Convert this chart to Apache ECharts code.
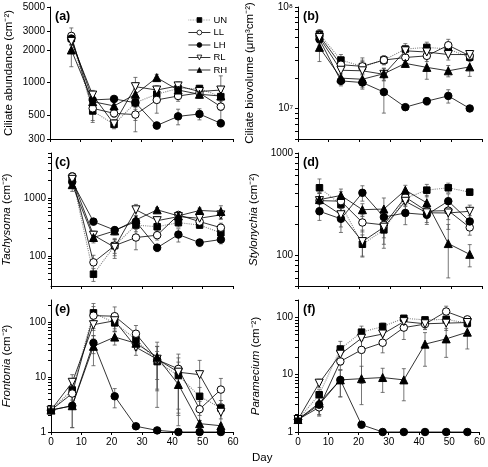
<!DOCTYPE html>
<html><head><meta charset="utf-8">
<script src="https://cdn.jsdelivr.net/npm/echarts@6/dist/echarts.min.js"></script>
<style>html,body{margin:0;padding:0;background:#fff}#c{width:488px;height:467px}</style>
</head><body><div id="c"></div>
<script>
// ---------- data ----------
const days0 = [0, 7, 14, 21, 28, 35, 42, 49, 56];
const days7 = [7, 14, 21, 28, 35, 42, 49, 56];
const xTicks = [0, 10, 20, 30, 40, 50, 60];
const seriesNames = ['UN', 'LL', 'LH', 'RL', 'RH'];

// (a) Ciliate abundance (cm^-2)
const a_UN = [2550, 545, 410, 650, 780, 880, 880, 740];
const a_LL = [2700, 577, 518, 505, 690, 750, 800, 598];
const a_LH = [2550, 690, 705, 650, 400, 486, 511, 419];
const a_RL = [2400, 765, 413, 915, 852, 930, 825, 852];
const a_RH = [2000, 665, 607, 778, 1110, 852, 778, 750];
const a_UN_se = [300, 100, 30, 300, 100, 100, 60, 100];
const a_LL_se = [500, 150, 40, 60, 170, 80, 60, 150];
const a_LH_se = [300, 60, 40, 60, 30, 80, 60, 30];
const a_RL_se = [400, 80, 40, 200, 80, 80, 60, 300];
const a_RH_se = [600, 80, 50, 100, 80, 80, 60, 80];
const a_ticks = [300, 500, 1000, 2000, 3000, 5000];

// (b) Ciliate biovolume (um^3 cm^-2)
const b_UN = [5.4e7, 3.0e7, 2.59e7, 3.0e7, 3.85e7, 4.0e7, 3.85e7, 3.2e7];
const b_LL = [5.2e7, 2.7e7, 2.6e7, 3.0e7, 3.18e7, 3.3e7, 4.2e7, 3.3e7];
const b_LH = [4.8e7, 1.87e7, 1.8e7, 1.45e7, 1.03e7, 1.18e7, 1.33e7, 1.0e7];
const b_RL = [5.0e7, 2.38e7, 2.35e7, 2.17e7, 3.7e7, 3.6e7, 3.4e7, 3.4e7];
const b_RH = [4.0e7, 1.99e7, 1.94e7, 2.2e7, 2.78e7, 2.54e7, 2.35e7, 2.57e7];
const b_UN_se = [0.6e7, 0.4e7, 0.4e7, 0.3e7, 0.5e7, 0.5e7, 0.4e7, 0.3e7];
const b_LL_se = [0.6e7, 0.3e7, 0.3e7, 0.3e7, 0.5e7, 0.4e7, 0.6e7, 0.3e7];
const b_LH_se = [0.6e7, 0.2e7, 0.2e7, 0.55e7, 0.05e7, 0.1e7, 0.2e7, 0.05e7];
const b_RL_se = [0.6e7, 0.3e7, 0.8e7, 0.3e7, 0.4e7, 0.4e7, 0.4e7, 0.3e7];
const b_RH_se = [1.1e7, 0.2e7, 0.2e7, 0.3e7, 0.2e7, 0.6e7, 0.3e7, 0.5e7];
const b_labels = [1e7, 1e8];
const b_ticks = [5e6, 6e6, 7e6, 8e6, 9e6, 1e7, 2e7, 3e7, 4e7, 5e7, 6e7, 7e7, 8e7, 9e7, 1e8];

// (c) Tachysoma (cm^-2)
const c_UN = [2300, 48, 150, 340, 318, 374, 340, 250];
const c_LL = [2350, 77, 150, 207, 227, 510, 390, 306];
const c_LH = [1900, 390, 278, 390, 138, 233, 169, 191];
const c_RL = [2100, 227, 140, 624, 405, 476, 446, 510];
const c_RH = [1700, 207, 270, 417, 624, 490, 608, 584];
const c_UN_se = [400, 12, 40, 80, 60, 60, 40, 60];
const c_LL_se = [400, 25, 50, 80, 40, 50, 60, 60];
const c_LH_se = [300, 50, 40, 60, 20, 60, 25, 30];
const c_RL_se = [400, 40, 50, 150, 60, 60, 60, 80];
const c_RH_se = [400, 40, 40, 80, 60, 60, 60, 150];
const c_labels = [100, 1000];
const c_ticks = [40, 50, 60, 70, 80, 90, 100, 200, 300, 400, 500, 600, 700, 800, 900, 1000, 2000, 3000, 4000, 5000, 6000];

// (d) Stylonychia (cm^-2)
const d_UN = [457, 313, 128, 177, 360, 433, 457, 414];
const d_LL = [342, 338, 209, 198, 370, 270, 273, 187];
const d_LH = [269, 227, 408, 236, 259, 249, 338, 214];
const d_RL = [342, 249, 136, 188, 337, 260, 259, 269];
const d_RH = [350, 384, 279, 283, 433, 325, 130, 102];
const d_UN_se = [100, 60, 30, 60, 60, 60, 50, 30];
const d_LL_se = [60, 80, 40, 50, 60, 40, 50, 30];
const d_LH_se = [50, 60, 70, 40, 60, 40, 60, 30];
const d_RL_se = [60, 60, 40, 60, 60, 60, 80, 40];
const d_RH_se = [60, 60, 40, 80, 50, 60, 70, 25];
const d_labels = [100, 1000];
const d_ticks = [50, 60, 70, 80, 90, 100, 200, 300, 400, 500, 600, 700, 800, 900, 1000];

// (e) Frontonia (cm^-2)
const e_UN = [2.5, 5.8, 146, 96, 48, 19, 10.6, 4.45, 2.73];
const e_LL = [2.5, 5.0, 130, 127, 61, 20.6, 14, 2.6, 5.9];
const e_LH = [2.5, 3.0, 41.5, 4.45, 1.27, 1.07, 1, 1, 1];
const e_RL = [2.5, 8.0, 89, 105, 34.7, 21, 12.2, 11, 2.28];
const e_RH = [2.5, 3.0, 36, 53, 41, 22.8, 7.3, 1.42, 1.3];
const e_UN_se = [0, 2, 70, 30, 15, 10, 8, 2, 1];
const e_LL_se = [0, 2, 60, 60, 25, 15, 12, 1, 3.5];
const e_LH_se = [0, 1.8, 15, 1.7, 0.15, 0.05, 0, 0, 0];
const e_RL_se = [0, 3, 40, 30, 10, 15, 10, 9, 1];
const e_RH_se = [0, 1.8, 20, 15, 10, 20, 6, 0.2, 0.1];
const e_labels = [1, 10, 100];
const e_ticks = [1, 2, 3, 4, 5, 6, 7, 8, 9, 10, 20, 30, 40, 50, 60, 70, 80, 90, 100, 200];

// (f) Paramecium (cm^-2)
const f_UN = [1.65, 4.46, 28, 55, 69, 96, 90, 92, 79];
const f_LL = [1.65, 2.69, 17, 27, 36, 66, 76, 126, 92];
const f_LH = [1.65, 2.99, 8.1, 1.34, 1, 1, 1, 1, 1];
const f_RL = [1.65, 7.1, 22.7, 43, 51, 84, 77, 79, 81];
const f_RH = [1.65, 3.2, 8.1, 8.5, 8.9, 8.1, 34, 42, 55];
const f_UN_se = [0, 1, 10, 15, 10, 10, 10, 10, 10];
const f_LL_se = [0, 0.8, 5, 20, 12, 25, 15, 30, 10];
const f_LH_se = [0, 1, 4, 0.15, 0, 0, 0, 0, 0];
const f_RL_se = [0, 1.2, 8, 15, 10, 15, 15, 20, 15];
const f_RH_se = [0, 1.2, 4, 5.5, 4, 4.6, 20, 22, 27];
const f_labels = [1, 10, 100];
const f_ticks = [1, 2, 3, 4, 5, 6, 7, 8, 9, 10, 20, 30, 40, 50, 60, 70, 80, 90, 100, 200];

// ---------- layout / styles ----------
const FONT = '"Liberation Sans", Arial, sans-serif';
const panels = [
  { tag: '(a)', days: days7, vals: [a_UN, a_LL, a_LH, a_RL, a_RH], se: [a_UN_se, a_LL_se, a_LH_se, a_RL_se, a_RH_se],
    min: 300, max: 5000, labels: a_ticks, ticks: a_ticks, name: 'Ciliate abundance (cm⁻²)', gap: 35,
    grid: { left: 50, top: 7, width: 183, height: 132 }, xl: false },
  { tag: '(b)', days: days7, vals: [b_UN, b_LL, b_LH, b_RL, b_RH], se: [b_UN_se, b_LL_se, b_LH_se, b_RL_se, b_RH_se],
    min: 5e6, max: 1e8, labels: b_labels, ticks: b_ticks, name: 'Ciliate biovolume (μm³cm⁻²)', gap: 42, sup: true,
    grid: { left: 298, top: 7, width: 184, height: 132 }, xl: false },
  { tag: '(c)', days: days7, vals: [c_UN, c_LL, c_LH, c_RL, c_RH], se: [c_UN_se, c_LL_se, c_LH_se, c_RL_se, c_RH_se],
    min: 30, max: 6000, labels: c_labels, ticks: c_ticks, name: '{i|Tachysoma} (cm⁻²)', gap: 38,
    grid: { left: 50, top: 153, width: 183, height: 133 }, xl: false },
  { tag: '(d)', days: days7, vals: [d_UN, d_LL, d_LH, d_RL, d_RH], se: [d_UN_se, d_LL_se, d_LH_se, d_RL_se, d_RH_se],
    min: 50, max: 1000, labels: d_labels, ticks: d_ticks, name: '{i|Stylonychia} (cm⁻²)', gap: 38,
    grid: { left: 298, top: 153, width: 184, height: 133 }, xl: false },
  { tag: '(e)', days: days0, vals: [e_UN, e_LL, e_LH, e_RL, e_RH], se: [e_UN_se, e_LL_se, e_LH_se, e_RL_se, e_RH_se],
    min: 1, max: 250, labels: e_labels, ticks: e_ticks, name: '{i|Frontonia} (cm⁻²)', gap: 38,
    grid: { left: 50, top: 300, width: 183, height: 132 }, xl: true },
  { tag: '(f)', days: days0, vals: [f_UN, f_LL, f_LH, f_RL, f_RH], se: [f_UN_se, f_LL_se, f_LH_se, f_RL_se, f_RH_se],
    min: 1, max: 200, labels: f_labels, ticks: f_ticks, name: '{i|Paramecium} (cm⁻²)', gap: 36,
    grid: { left: 298, top: 300, width: 184, height: 132 }, xl: true }
];

const sty = {
  UN: { symbol: 'rect', size: 6.5, fill: '#000', rot: 0, line: { color: '#888', type: 'dotted', width: 1.1 } },
  LL: { symbol: 'circle', size: 7.5, fill: '#fff', rot: 0, line: { color: '#000', type: 'solid', width: 0.8 } },
  LH: { symbol: 'circle', size: 7.5, fill: '#000', rot: 0, line: { color: '#000', type: 'solid', width: 0.8 } },
  RL: { symbol: 'triangle', size: 8, fill: '#fff', rot: 180, line: { color: '#000', type: 'solid', width: 0.8 } },
  RH: { symbol: 'triangle', size: 8, fill: '#000', rot: 0, line: { color: '#000', type: 'solid', width: 0.8 } }
};

function renderErr(params, api) {
  const x = api.value(0), lo = api.value(1), hi = api.value(2);
  const p1 = api.coord([x, lo]), p2 = api.coord([x, hi]);
  const w = 2;
  const st = { stroke: '#555', lineWidth: 0.8 };
  return { type: 'group', children: [
    { type: 'line', shape: { x1: p1[0], y1: p1[1], x2: p2[0], y2: p2[1] }, style: st },
    { type: 'line', shape: { x1: p1[0] - w, y1: p1[1], x2: p1[0] + w, y2: p1[1] }, style: st },
    { type: 'line', shape: { x1: p2[0] - w, y1: p2[1], x2: p2[0] + w, y2: p2[1] }, style: st }
  ] };
}

const sup = { '7': '⁷', '8': '⁸' };
const grids = [], xAxes = [], yAxes = [], series = [], graphics = [];
panels.forEach((p, i) => {
  grids.push(p.grid);
  xAxes.push({
    type: 'value', gridIndex: i, min: 0, max: 60, interval: 10,
    axisLine: { show: true, lineStyle: { color: '#000', width: 1 } },
    axisTick: { show: true, length: 3, inside: false, lineStyle: { color: '#000' } },
    axisLabel: { show: p.xl, fontSize: 10, color: '#000', margin: 5, fontFamily: FONT },
    splitLine: { show: false }
  });
  yAxes.push({
    type: 'log', logBase: 10, gridIndex: i, min: p.min, max: p.max,
    name: p.name, nameLocation: 'middle', nameGap: p.gap, nameRotate: 90,
    nameTextStyle: { fontSize: 11.5, color: '#000', fontFamily: FONT, rich: { i: { fontStyle: 'italic', fontSize: 11.5, fontFamily: FONT, color: '#000' } } },
    axisLine: { show: true, onZero: false, lineStyle: { color: '#000', width: 1 } },
    axisTick: { show: true, length: 3, customValues: p.ticks, lineStyle: { color: '#000' } },
    axisLabel: { show: true, fontSize: 10, color: '#000', margin: 5, fontFamily: FONT, customValues: p.labels,
      formatter: p.sup ? (v => '10' + sup[String(Math.round(Math.log10(v)))]) : (v => String(v)) },
    splitLine: { show: false }, minorTick: { show: false }
  });
  const errData = [];
  seriesNames.forEach((nm, k) => {
    const s = sty[nm];
    series.push({
      name: nm, type: 'line', xAxisIndex: i, yAxisIndex: i,
      data: p.days.map((d, j) => [d, p.vals[k][j]]),
      symbol: s.symbol, symbolSize: s.size, symbolRotate: s.rot, showSymbol: true,
      itemStyle: { color: s.fill, borderColor: '#000', borderWidth: 1 },
      lineStyle: s.line, z: 3, animation: false, silent: true
    });
    p.days.forEach((d, j) => {
      const v = p.vals[k][j], e = p.se[k][j];
      if (e > 0) errData.push([d, Math.max(v - e, p.min * 1.001), Math.min(v + e, p.max)]);
    });
  });
  series.push({
    type: 'custom', xAxisIndex: i, yAxisIndex: i, renderItem: renderErr,
    data: errData, encode: { x: 0, y: [1, 2] }, z: 2, silent: true, animation: false
  });
  graphics.push({ type: 'text', left: p.grid.left + 5, top: p.grid.top + 3,
    style: { text: p.tag, font: 'bold 12.5px ' + FONT, fill: '#000' } });
});
graphics.push({ type: 'text', left: 252, top: 452, style: { text: 'Day', font: '11.5px ' + FONT, fill: '#000' } });

const chart = echarts.init(document.getElementById('c'), null, { renderer: 'canvas' });
chart.setOption({
  backgroundColor: '#fff',
  animation: false,
  grid: grids, xAxis: xAxes, yAxis: yAxes, series: series,
  graphic: graphics,
  legend: {
    data: seriesNames, orient: 'vertical', left: 183, top: 10,
    itemWidth: 22, itemHeight: 6, itemGap: 2.5,
    lineStyle: { width: 0.8 },
    itemStyle: { borderWidth: 0.8 },
    textStyle: { fontSize: 9.5, color: '#000', fontFamily: FONT, lineHeight: 6, padding: [0, 0, 0, -2] },
    selectedMode: false
  }
});
</script></body></html>
